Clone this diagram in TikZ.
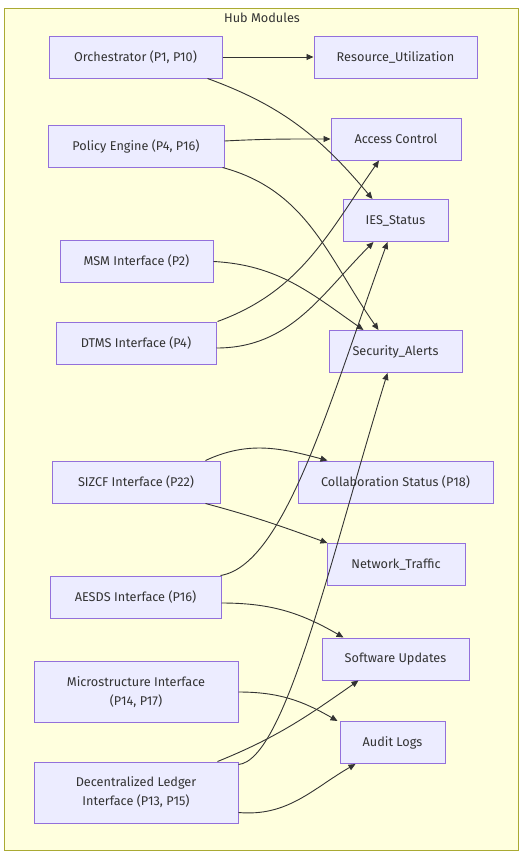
\documentclass[tikz,border=0pt]{standalone}
\usepackage{fontspec}
\setmainfont{Fira Sans}
\usetikzlibrary{arrows.meta}

\definecolor{hubfill}{HTML}{FFFFDE}
\definecolor{hubline}{HTML}{AAAA33}
\definecolor{modfill}{HTML}{ECECFF}
\definecolor{modline}{HTML}{9370DB}
\definecolor{inkgray}{HTML}{333333}

\begin{document}
\begin{tikzpicture}[
    x=1pt, y=1pt,
    module style/.style={
        draw=modline,
        fill=modfill,
        line width=1pt,
        minimum height=42pt,
        align=center,
        inner sep=0pt,
        text=inkgray,
        font=\fontsize{12.7}{19}\selectfont
    },
    arrow style/.style={
        draw=inkgray,
        line width=0.9pt,
        -{Triangle[length=7pt,width=6pt]}
    }
]

\useasboundingbox (0,0) rectangle (527,-857);

% Cluster frame
\draw[draw=hubline, fill=hubfill, line width=1pt] (4,-8) rectangle (518,-850);
\node[text=inkgray, font=\fontsize{12.7}{14}\selectfont] (hub) at (262,-18) {Hub Modules};

% Modules (left column)
\node[module style, minimum width=173pt] (orch)   at (135.5,-57)  {Orchestrator (P1, P10)};
\node[module style, minimum width=176pt] (policy) at (136,-146)   {Policy Engine (P4, P16)};
\node[module style, minimum width=153pt] (msm)    at (136.5,-261.5) {MSM Interface (P2)};
\node[module style, minimum width=160pt] (dtms)   at (136,-343)   {DTMS Interface (P4)};
\node[module style, minimum width=168pt] (sizcf)  at (136,-482)   {SIZCF Interface (P22)};
\node[module style, minimum width=171pt] (aesds)  at (135.5,-597) {AESDS Interface (P16)};
\node[module style, minimum width=204pt, minimum height=61pt] (micro)  at (136,-692) {Microstructure Interface\\(P14, P17)};
\node[module style, minimum width=204pt, minimum height=61pt] (ledger) at (136,-792.5) {Decentralized Ledger\\Interface (P13, P15)};

% Outputs (right column)
\node[module style, minimum width=163pt] (resutil) at (395.5,-57)  {Resource\_Utilization};
\node[module style, minimum width=130pt] (access)  at (396,-139)   {Access Control};
\node[module style, minimum width=105pt] (ies)     at (395.5,-220.5) {IES\_Status};
\node[module style, minimum width=133pt] (secal)   at (395.5,-351.5) {Security\_Alerts};
\node[module style, minimum width=195pt] (collab)  at (395.5,-482) {Collaboration Status (P18)};
\node[module style, minimum width=138pt] (network) at (396,-564.5) {Network\_Traffic};
\node[module style, minimum width=147pt] (sw)      at (395.5,-659) {Software Updates};
\node[module style, minimum width=105pt] (audit)   at (392.5,-742.5) {Audit Logs};

% Connectors
\draw[arrow style] (orch.east) -- (resutil.west);
\draw[arrow style] ([xshift=-15pt]orch.south east) to[out=-20,in=130] ([xshift=-23pt]ies.north);
\draw[arrow style] ([yshift=5pt]policy.east) to[out=3,in=180] (access.west);
\draw[arrow style] ([xshift=-2pt]policy.south east) to[out=-15,in=125] ([xshift=-17pt]secal.north);
\draw[arrow style] (msm.east) to[out=-3,in=145] ([xshift=-32pt]secal.north);
\draw[arrow style] ([xshift=1pt]dtms.north east) to[out=20,in=-125] ([xshift=-17pt]access.south);
\draw[arrow style] ([yshift=-5pt]dtms.east) to[out=0,in=-135] ([xshift=-22pt]ies.south);
\draw[arrow style] ([xshift=-15pt]sizcf.north east) to[out=25,in=165] ([xshift=-68pt]collab.north);
\draw[arrow style] ([xshift=-15pt]sizcf.south east) to[out=-15,in=160] ([xshift=1pt]network.north west);
\draw[arrow style] ([xshift=-1pt]aesds.north east) .. controls (285,-565) and (330,-400) .. ([xshift=-8pt]ies.south);
\draw[arrow style] ([yshift=-6pt]aesds.east) to[out=0,in=150] ([xshift=-52pt]sw.north);
\draw[arrow style] (micro.east) to[out=0,in=150] ([xshift=-2pt]audit.north west);
\draw[arrow style] ([xshift=-21pt]ledger.north east) to[out=22,in=-145] ([xshift=-37pt]sw.south);
\draw[arrow style] ([yshift=-3pt]ledger.north east) .. controls (285,-760) and (330,-560) .. ([xshift=-8pt]secal.south);
\draw[arrow style] ([yshift=-20pt]ledger.east) to[out=-5,in=-150] ([xshift=-37pt]audit.south);

\end{tikzpicture}
\end{document}
